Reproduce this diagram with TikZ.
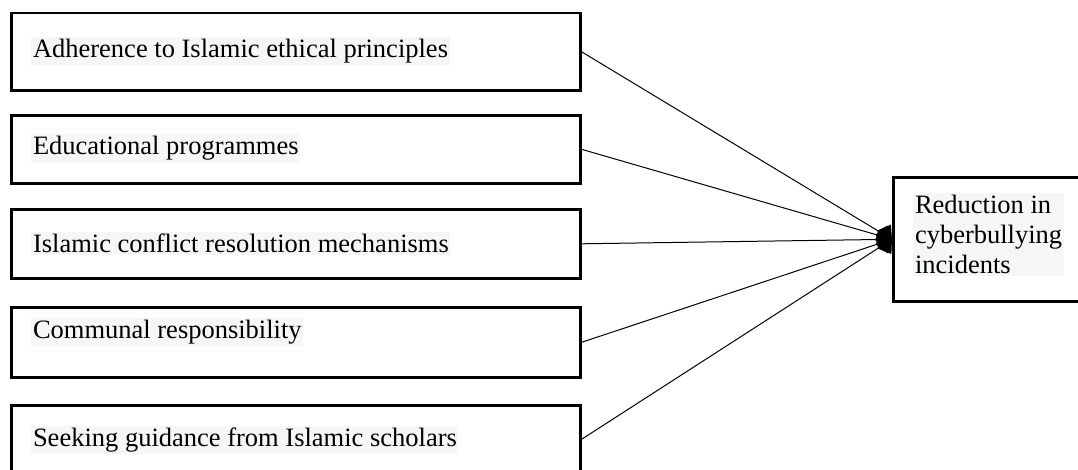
\documentclass[tikz,border=0pt]{standalone}
\usepackage{fontspec}
\setmainfont{Liberation Serif}
\usetikzlibrary{arrows.meta}
\definecolor{hilite}{RGB}{245,246,248}
\tikzset{
	factor/.style={draw, line width=1.3pt, anchor=north west, inner sep=0pt, minimum width=284.5pt},
	words/.style={fill=hilite, anchor=west, inner xsep=0.8pt, inner ysep=1pt, font=\fontsize{13.25}{15}\selectfont},
	link/.style={line width=0.5pt, -{Diamond[length=8.5pt, width=12pt]}}
}
\begin{document}
\begin{tikzpicture}[x=0.5pt, y=-0.5pt]
		\useasboundingbox (0, 0) rectangle (1078, 470);
		\node [factor, minimum height=38.8pt] (Adh) at (10, 11.7) {};
		\node [factor, minimum height=34pt] (Edu) at (10, 114) {};
		\node [factor, minimum height=34.5pt] (Con) at (10, 208) {};
		\node [factor, minimum height=35pt] (Com) at (10, 306) {};
		\node [factor, minimum height=34pt] (Seek) at (10, 404) {};
		\node [words] (Adh_T) at (31, 51) {Adherence to Islamic ethical principles};
		\node [words] (Edu_T) at (31, 148.5) {Educational programmes};
		\node [words] (Con_T) at (31, 243.5) {Islamic conflict resolution mechanisms};
		\node [words] (Com_T) at (31, 332) {Communal responsibility};
		\node [words] (Seek_T) at (31, 440) {Seeking guidance from Islamic scholars};
		\node [factor, minimum width=95pt, minimum height=62pt] (Red) at (892, 176) {};
		\node [words, anchor=north west, align=left] (Red_T) at (913, 193) {Reduction in\\cyberbullying\\incidents};
		\draw [link] (Adh.east) -- (Red.west);
		\draw [link] (Edu.east) -- (Red.west);
		\draw [link] (Con.east) -- (Red.west);
		\draw [link] (Com.east) -- (Red.west);
		\draw [link] (Seek.east) -- (Red.west);
	\end{tikzpicture}
\end{document}
